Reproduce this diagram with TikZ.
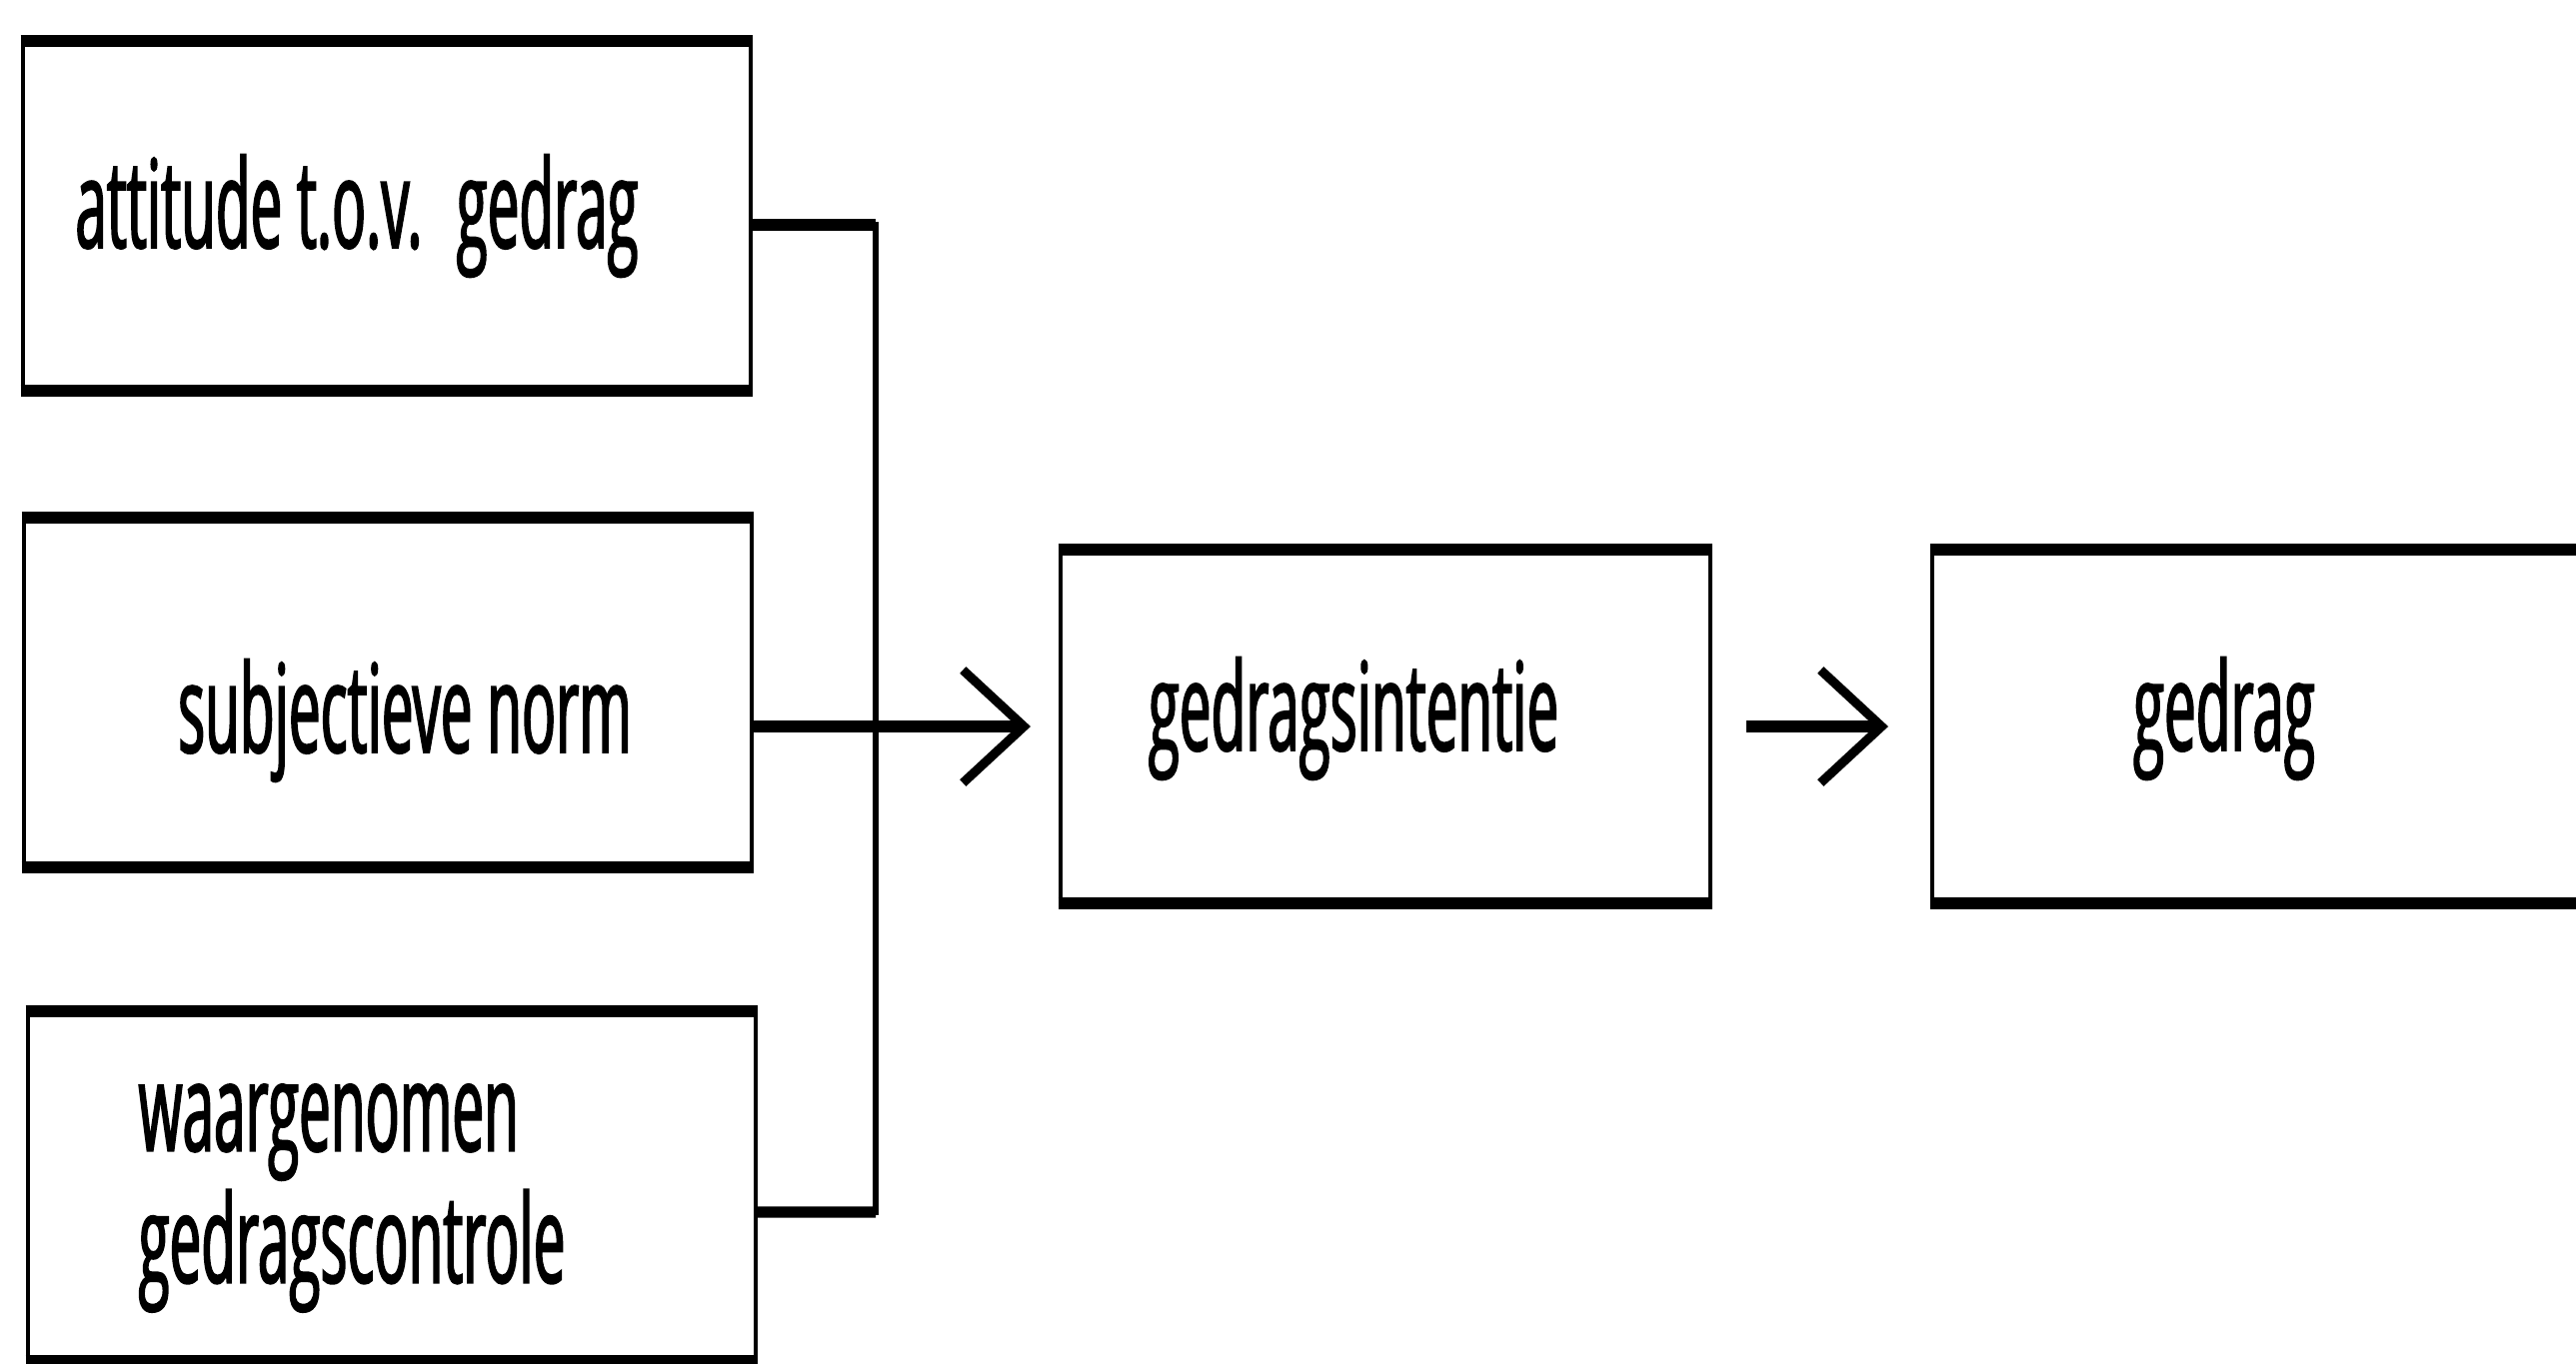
\documentclass[tikz,border=0pt]{standalone}
\usepackage{fontspec}
\newfontfamily\diafont{Open Sans}[FakeStretch=0.46,FakeBold=1.4]
\usetikzlibrary{arrows.meta}
\tikzset{
  box/.style={draw, line width=1.4pt, outer sep=0pt, inner sep=0pt,
    minimum width=7.28cm, minimum height=3.5cm},
  txt/.style={inner sep=0pt, align=left, font=\diafont\fontsize{35}{37.5}\selectfont},
  rimline/.style={line width=3.4pt},
  hline/.style={line width=3.2pt},
  vline/.style={line width=1.5pt, line cap=rect},
  barb/.style={-{Straight Barb[length=0.61cm,width=1.13cm,line width=2.6pt]}}
}

\begin{document}
\begin{tikzpicture}
		%%%%% START %%%%%
		\useasboundingbox (0,0) rectangle (25.77,-13.64);
		
		\node[box, label={[txt, xshift=-0.3cm]center:attitude t.o.v.~ gedrag}] (att) at (3.87,-2.16) {};
		\node[box, label={[txt, xshift=0.17cm, yshift=-0.28cm]center:subjectieve norm}] (norm) at (3.88,-6.93) {};
		\node[box, label={[txt, xshift=-0.4cm, yshift=-0.12cm]center:waargenomen\\gedragscontrole}] (ctrl) at (3.92,-11.87) {};
		
		\node[box, minimum width=6.5cm, minimum height=3.54cm,
			label={[txt, xshift=-0.32cm, yshift=0.08cm]center:gedragsintentie}] (int) at (13.86,-7.27) {};
		\node[box, minimum width=6.5cm, minimum height=3.54cm,
			label={[txt, xshift=-0.33cm, yshift=0.08cm]center:gedrag}] (ged) at (22.58,-7.27) {};
		
		% heavier top and bottom edges
		\foreach \n in {att,norm,ctrl,int,ged}
			\draw[rimline] ([xshift=-0.7pt]\n.north west) -- ([xshift=0.7pt]\n.north east)
				([xshift=-0.7pt]\n.south west) -- ([xshift=0.7pt]\n.south east);
		
		\coordinate (jt) at (8.76,-2.25);
		\coordinate (jb) at (8.76,-12.13);
		
		\draw[hline] ([yshift=-0.09cm]att.east) -- (jt);
		\draw[vline] (jt) -- (jb);
		\draw[hline] ([yshift=-0.26cm]ctrl.east) -- (jb);
		
		\draw[hline, barb, shorten >=0.3cm] (int.west -| norm.east) -- (int.west);
		\draw[hline, barb, shorten <=0.36cm, shorten >=0.44cm] (int.east) -- (ged.west);
		
		%%%%% END %%%%%
	\end{tikzpicture}
\end{document}
